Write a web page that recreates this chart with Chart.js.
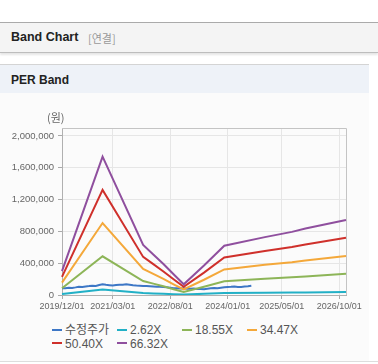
<!DOCTYPE html>
<html>
<head>
<meta charset="utf-8">
<script src="https://cdn.jsdelivr.net/npm/chart.js@4.4.1/dist/chart.umd.min.js"></script>
<style>
    body { margin: 0; background: #fff; font-family: "Liberation Sans", "Noto Sans CJK KR", sans-serif; }
    .hdr { position: absolute; left: 0; top: 22px; width: 378px; height: 29px; background: #f4f4f4;
           border-top: 1px solid #aaa; border-bottom: 1px solid #bdbdbd; box-shadow: 0 2px 2px rgba(0,0,0,0.10); }
    .hdr b { position: absolute; left: 11px; top: 7px; font-size: 12.5px; color: #222; }
    .hdr span { position: absolute; left: 88px; top: 8px; font-size: 11px; color: #999; font-family: "Noto Sans CJK KR", sans-serif; line-height: 14px; }
    .sec { position: absolute; left: 0; top: 64px; width: 369px; height: 28px; background: #eef2f8; border-top: 1px solid #d4d4d4; }
    .sec b { position: absolute; left: 11px; top: 8px; font-size: 12px; color: #222; }
    .panel { position: absolute; left: 0; top: 93px; width: 369px; height: 268px; background: #fbfbfb; }
    .foot { position: absolute; left: 0; top: 361px; width: 378px; height: 1px; background: #ddd; }
    .unit { position: absolute; left: 47px; top: 109px; font-size: 11px; color: #666; font-family: "Noto Sans CJK KR", sans-serif; }
    canvas { position: absolute; left: 0; top: 93px; }
    .lg { position: absolute; font-size: 12px; color: #555; line-height: 13px; white-space: nowrap; font-family: "Liberation Sans", "Noto Sans CJK KR", sans-serif; }
    .lg i { display: inline-block; width: 10px; height: 2px; vertical-align: middle; margin-right: 3px; position: relative; top: -1px; }
</style>
</head>
<body>
<div class="hdr"><b>Band Chart</b><span>[연결]</span></div>
<div class="sec"><b>PER Band</b></div>
<div class="panel"></div>
<div class="foot"></div>
<canvas id="band" width="369" height="225"></canvas>
<div class="unit">(원)</div>
<div id="legend"></div>

<script>
// 월별 카테고리: 2019/12 ~ 2026/12
const labels = [];
for (let y = 2019, m = 12; labels.length < 85; m++) {
    if (m > 12) { m = 1; y++; }
    labels.push(y + '/' + String(m).padStart(2, '0') + '/01');
}
const tickIdx = [0, 15, 32, 49, 65, 82];
const yTicks = [0, 400000, 800000, 1200000, 1600000, 2000000];

// 수정주가 (월별)
const price = [84000, 86000, 90000, 88000, 96000, 105000, 102000, 108000, 112000, 117000,
    113000, 125000, 134000, 128000, 124000, 120000, 126000, 130000, 128000, 134000,
    130000, 124000, 120000, 117000, 114000, 112000, 110000, 108000, 104000, 105000,
    100000, 96000, 90000, 84000, 86000, 82000, 84000, 80000, 78000, 82000,
    76000, 74000, 72000, 78000, 84000, 88000, 86000, 92000, 98000, 102000,
    104000, 108000, 102000, 100000, 106000, 110000, 117000];

// 밴드 값이 바뀌는 지점 (월 인덱스)
const bandAt = [0, 12, 24, 27, 30, 33, 36, 42, 48, 60, 68, 72, 84];
const per262 = [12000, 69000, 25000, 20000, 15000, 10000, 5000, 15000, 24000, 29000, 31000, 33000, 37000];
const per1855 = [84000, 487000, 176000, 143000, 109000, 73000, 38000, 103000, 173000, 204000, 222000, 234000, 268000];
const per3447 = [156000, 905000, 328000, 265000, 203000, 135000, 70000, 192000, 322000, 379000, 413000, 434000, 490000];
const per5040 = [228000, 1322000, 479000, 388000, 296000, 198000, 103000, 281000, 471000, 553000, 603000, 635000, 719000];
const per6632 = [300000, 1740000, 630000, 510000, 390000, 260000, 135000, 370000, 620000, 728000, 794000, 835000, 943000];

const band = vals => bandAt.map((m, i) => ({ x: labels[m], y: vals[i] }));

const series = [
    { label: '수정주가', data: price, color: '#3d77c6' },
    { label: '2.62X', data: band(per262), color: '#22b0c6' },
    { label: '18.55X', data: band(per1855), color: '#8db558' },
    { label: '34.47X', data: band(per3447), color: '#f4a83a' },
    { label: '50.40X', data: band(per5040), color: '#cf302b' },
    { label: '66.32X', data: band(per6632), color: '#8f4f9e' }
];

// 차트 영역 테두리 (위, 오른쪽)
const frame = {
    id: 'frame',
    beforeDatasetsDraw(chart) {
        const { ctx, chartArea: a } = chart;
        ctx.save();
        ctx.strokeStyle = '#c4c4c4';
        ctx.lineWidth = 1;
        ctx.beginPath();
        ctx.moveTo(a.left, a.top + 0.5);
        ctx.lineTo(a.right + 0.5, a.top + 0.5);
        ctx.lineTo(a.right + 0.5, a.bottom);
        ctx.stroke();
        ctx.restore();
    }
};

new Chart(document.getElementById('band'), {
    type: 'line',
    data: {
        labels: labels,
        datasets: series.map(s => ({
            label: s.label,
            data: s.data,
            borderColor: s.color,
            backgroundColor: s.color,
            borderWidth: 2,
            pointRadius: 0,
            tension: 0,
            fill: false
        })).reverse()
    },
    options: {
        responsive: false,
        animation: false,
        devicePixelRatio: 1,
        layout: { padding: { top: 35, right: 23, left: 0, bottom: 0 } },
        plugins: { legend: { display: false }, tooltip: { enabled: false } },
        scales: {
            x: {
                afterFit: s => { s.height = 23; },
                border: { color: '#b0b0b0' },
                grid: {
                    color: c => tickIdx.includes(c.index) ? '#e6e6e6' : 'rgba(0,0,0,0)',
                    tickColor: c => tickIdx.includes(c.index) ? '#aaa' : 'rgba(0,0,0,0)',
                    tickLength: 4
                },
                ticks: {
                    autoSkip: false,
                    maxRotation: 0,
                    padding: 2,
                    color: '#666',
                    font: { size: 9, family: '"Liberation Sans", sans-serif' },
                    callback: (v, i) => tickIdx.includes(i) ? labels[i] : ''
                }
            },
            y: {
                min: 0,
                max: 2100000,
                afterFit: s => { s.width = 62; },
                afterBuildTicks: s => { s.ticks = yTicks.map(v => ({ value: v })); },
                border: { color: '#b0b0b0' },
                grid: { color: '#e6e6e6', tickColor: '#aaa', tickLength: 4 },
                ticks: {
                    padding: 4,
                    color: '#666',
                    font: { size: 9.5, family: '"Liberation Sans", sans-serif' },
                    callback: v => v.toLocaleString('en-US')
                }
            }
        }
    },
    plugins: [frame]
});

// 범례
const lg = document.getElementById('legend');
series.forEach((s, i) => {
    const d = document.createElement('div');
    d.className = 'lg';
    d.style.left = (52 + (i % 4) * 65) + 'px';
    d.style.top = (324 + Math.floor(i / 4) * 13.5) + 'px';
    d.innerHTML = '<i style="background:' + s.color + '"></i>' + s.label;
    lg.appendChild(d);
});
</script>
</body>
</html>
